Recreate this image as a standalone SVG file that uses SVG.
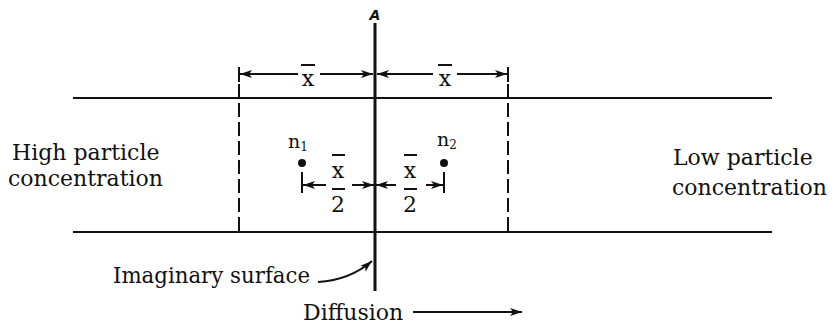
<svg xmlns="http://www.w3.org/2000/svg" width="834" height="326" viewBox="0 0 834 326">
<style>
.t{font-family:"DejaVu Serif","Liberation Serif",serif;fill:#111;font-size:22px}
.ln{stroke:#111;stroke-width:2;fill:none}
.dash{stroke:#111;stroke-width:2;stroke-dasharray:14 5;fill:none}
.ar{stroke:#111;stroke-width:2;fill:none;marker-end:url(#ah)}
.ar2{stroke:#111;stroke-width:2;fill:none;marker-start:url(#ah);marker-end:url(#ah)}
</style>
<defs>
<marker id="ah" viewBox="0 0 12 8" refX="12" refY="4" markerWidth="12" markerHeight="8" markerUnits="userSpaceOnUse" orient="auto-start-reverse">
<path d="M0,0 L12,4 L0,8 L3,4 z" fill="#111"/>
</marker>
</defs>
<rect width="834" height="326" fill="#fff"/>
<g id="channel">
<line class="ln" x1="73" y1="98" x2="772" y2="98"/>
<line class="ln" x1="73" y1="232" x2="772" y2="232"/>
</g>
<g id="surface">
<line x1="375" y1="23" x2="375" y2="291" stroke="#111" stroke-width="3"/>
<text x="375" y="20" text-anchor="middle" style="font-family:'DejaVu Sans',sans-serif;font-size:14px;font-style:italic;font-weight:bold;fill:#111">A</text>
</g>
<g id="boundaries">
<line class="ln" x1="239" y1="67" x2="239" y2="82"/>
<line class="dash" x1="239" y1="84" x2="239" y2="232"/>
<line class="ln" x1="508" y1="67" x2="508" y2="82"/>
<line class="dash" x1="508" y1="84" x2="508" y2="232"/>
</g>
<g id="connectors">
<line class="ar" x1="298" y1="74" x2="240" y2="74"/>
<line class="ar" x1="320" y1="74" x2="373" y2="74"/>
<line class="ar" x1="433" y1="74" x2="377" y2="74"/>
<line class="ar" x1="457" y1="74" x2="507" y2="74"/>
<line class="ln" x1="302" y1="172" x2="302" y2="193"/>
<line class="ln" x1="444" y1="172" x2="444" y2="193"/>
<line class="ar" x1="326" y1="185" x2="303" y2="185"/>
<line class="ar" x1="352" y1="185" x2="374" y2="185"/>
<line class="ar" x1="396" y1="185" x2="376" y2="185"/>
<line class="ar" x1="426" y1="185" x2="443" y2="185"/>
<path class="ar" d="M318,282 Q350,280 372,261"/>
<line class="ar" x1="413" y1="312" x2="522" y2="312"/>
</g>
<g id="label-x-left">
<line class="ln" x1="301" y1="65" x2="315" y2="65"/>
<text class="t" x="308" y="86" text-anchor="middle">x</text>
</g>
<g id="label-x-right">
<line class="ln" x1="438" y1="65" x2="452" y2="65"/>
<text class="t" x="445" y="86" text-anchor="middle">x</text>
</g>
<g id="label-half-left">
<line class="ln" x1="332" y1="155" x2="345" y2="155"/>
<text class="t" x="338" y="178" text-anchor="middle">x</text>
<line class="ln" x1="332" y1="189" x2="345" y2="189"/>
<text class="t" x="338" y="212" text-anchor="middle">2</text>
</g>
<g id="label-half-right">
<line class="ln" x1="404" y1="155" x2="417" y2="155"/>
<text class="t" x="410" y="178" text-anchor="middle">x</text>
<line class="ln" x1="404" y1="189" x2="417" y2="189"/>
<text class="t" x="410" y="212" text-anchor="middle">2</text>
</g>
<g id="n1">
<text class="t" x="288" y="148" style="font-size:19px">n<tspan dy="3" style="font-size:12px">1</tspan></text>
<circle cx="302" cy="163" r="4" fill="#111"/>
</g>
<g id="n2">
<text class="t" x="437" y="146" style="font-size:19px">n<tspan dy="3" style="font-size:12px">2</tspan></text>
<circle cx="444" cy="163" r="4" fill="#111"/>
</g>
<g id="high">
<text class="t" x="12" y="160">High particle</text>
<text class="t" x="8" y="186">concentration</text>
</g>
<g id="low">
<text class="t" x="673" y="165">Low particle</text>
<text class="t" x="672" y="195">concentration</text>
</g>
<g id="imaginary">
<text class="t" x="113" y="283" textLength="197" lengthAdjust="spacingAndGlyphs">Imaginary surface</text>
</g>
<g id="diffusion">
<text class="t" x="303" y="320">Diffusion</text>
</g>
</svg>
